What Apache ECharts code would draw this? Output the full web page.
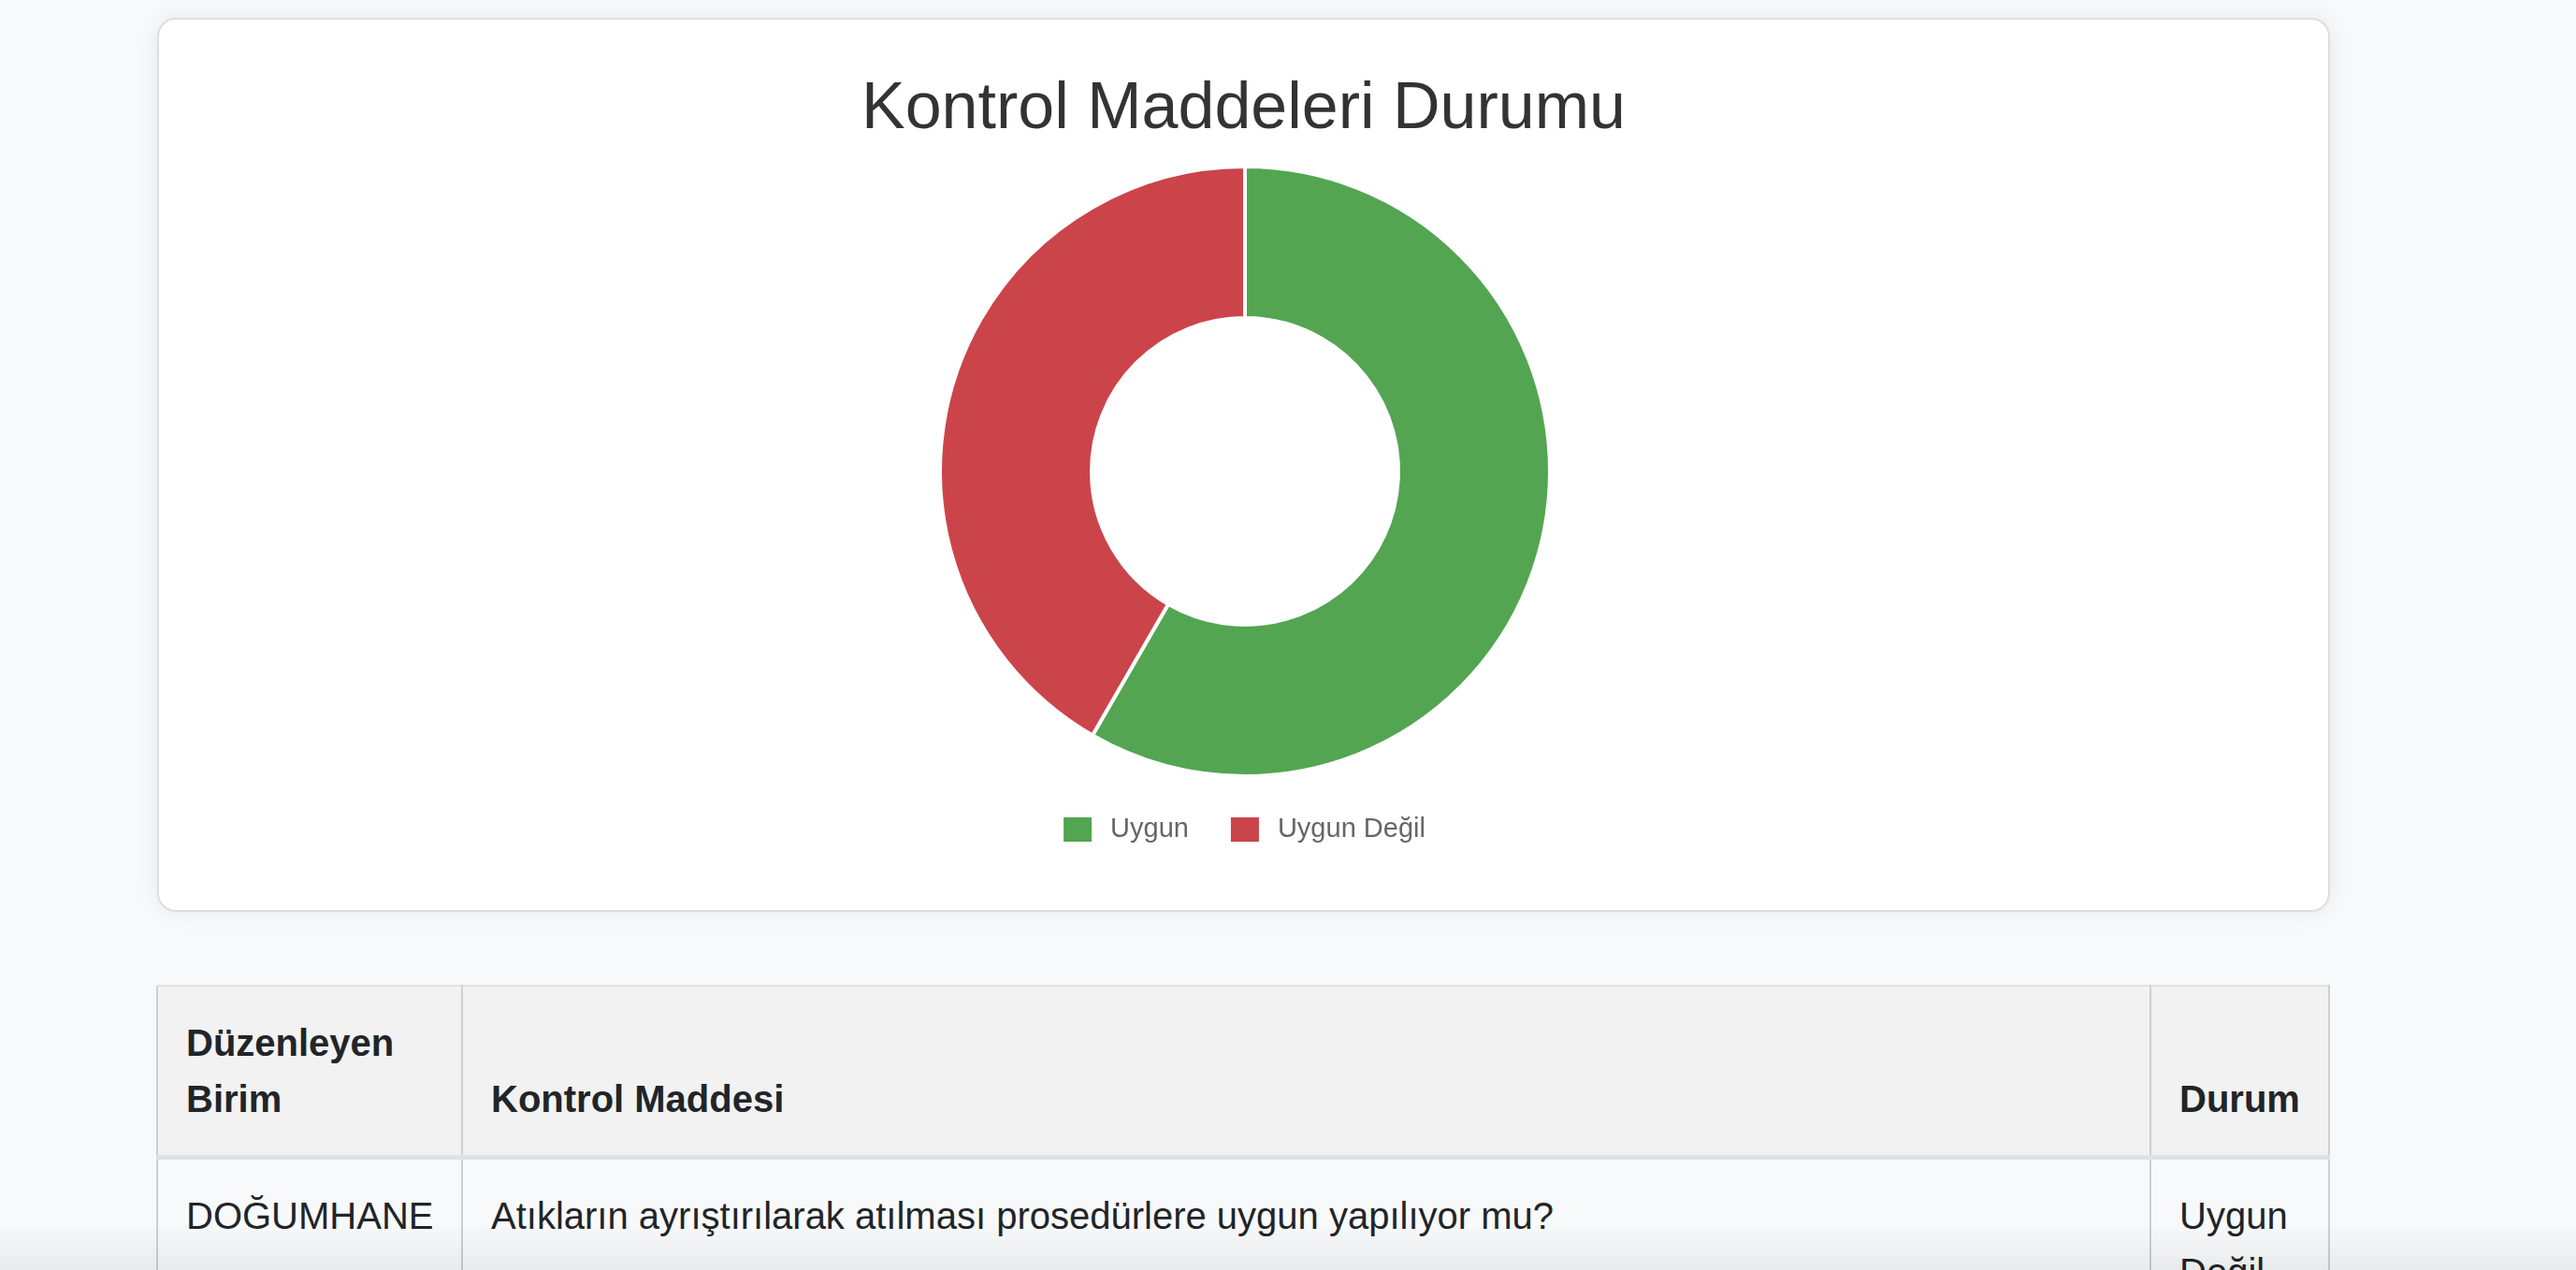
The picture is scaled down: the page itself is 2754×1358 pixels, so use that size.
<!DOCTYPE html>
<html>
<head>
<meta charset="utf-8">
<script src="https://cdn.jsdelivr.net/npm/echarts@6/dist/echarts.min.js"></script>
<style>
  html, body { margin: 0; padding: 0; }
  body { width: 2754px; height: 1358px; overflow: hidden; background: #f8f9fa; font-family: "Liberation Sans", Arial, Helvetica, sans-serif; position: relative; }
  #card { position: absolute; left: 168px; top: 19px; width: 2323px; height: 956px; box-sizing: border-box; background: #fff; border: 2px solid #dedede; border-radius: 20px; box-shadow: 0 0 24px rgba(0,0,0,0.07); }
  #chart { position: absolute; left: 0; top: 0; width: 2319px; height: 952px; }
  #tbl { position: absolute; left: 167px; top: 1053px; width: 2324px; border-collapse: collapse; table-layout: fixed; color: #212529; font-size: 40px; line-height: 60px; }
  #tbl th { background: #f2f2f2; font-weight: bold; text-align: left; vertical-align: bottom; padding: 30px; border-left: 2px solid #cfcfcf; border-right: 2px solid #cfcfcf; border-top: 2px solid #dee2e6; border-bottom: 5px solid #dee2e6; }
  #tbl td { background: #f8f9fa; text-align: left; vertical-align: top; padding: 30px; border-left: 2px solid #cfcfcf; border-right: 2px solid #cfcfcf; }
  #fade { position: fixed; left: 0; bottom: 0; width: 100%; height: 50px; background: linear-gradient(to bottom, rgba(0,0,0,0), rgba(0,0,0,0.06)); pointer-events: none; }
</style>
</head>
<body>
<div id="card"><div id="chart"></div></div>
<table id="tbl">
  <colgroup><col style="width:326px"><col><col style="width:191px"></colgroup>
  <thead><tr id="thead"></tr></thead>
  <tbody id="tbody"></tbody>
</table>
<div id="fade"></div>
<script>
// ---- data ----
const chartTitle = 'Kontrol Maddeleri Durumu';
const categories = ['Uygun', 'Uygun Değil'];
const values = [7, 5];
const colors = ['#53a551', '#cb444a'];

const tableHeaders = ['Düzenleyen Birim', 'Kontrol Maddesi', 'Durum'];
const tableUnits = ['DOĞUMHANE'];
const tableItems = ['Atıkların ayrıştırılarak atılması prosedürlere uygun yapılıyor mu?'];
const tableStatus = ['Uygun Değil'];

// ---- table ----
const thead = document.getElementById('thead');
tableHeaders.forEach(h => { const th = document.createElement('th'); th.textContent = h; thead.appendChild(th); });
const tbody = document.getElementById('tbody');
tableUnits.forEach((u, i) => {
  const tr = document.createElement('tr');
  [u, tableItems[i], tableStatus[i]].forEach(v => { const td = document.createElement('td'); td.textContent = v; tr.appendChild(td); });
  tbody.appendChild(tr);
});

// ---- chart ----
const chart = echarts.init(document.getElementById('chart'), null, { renderer: 'canvas' });
chart.setOption({
  animation: false,
  color: colors,
  title: {
    text: chartTitle,
    left: 'center',
    top: 62,
    padding: 0,
    textStyle: { fontFamily: '"Liberation Sans", Arial, Helvetica, sans-serif', fontSize: 70, fontWeight: 'normal', color: '#333333' }
  },
  legend: {
    data: categories,
    left: 'center',
    top: 851,
    padding: 0,
    icon: 'rect',
    itemWidth: 32,
    itemHeight: 28,
    itemGap: 43,
    textStyle: { fontFamily: '"Liberation Sans", Arial, Helvetica, sans-serif', fontSize: 29, color: '#666666', padding: [0, 0, 0, 14] }
  },
  series: [{
    type: 'pie',
    center: [1161, 483],
    radius: [164, 326],
    startAngle: 90,
    clockwise: true,
    label: { show: false },
    labelLine: { show: false },
    emphasis: { disabled: true },
    itemStyle: { borderColor: '#ffffff', borderWidth: 4 },
    data: categories.map((c, i) => ({ name: c, value: values[i] }))
  }]
});
</script>
</body>
</html>
